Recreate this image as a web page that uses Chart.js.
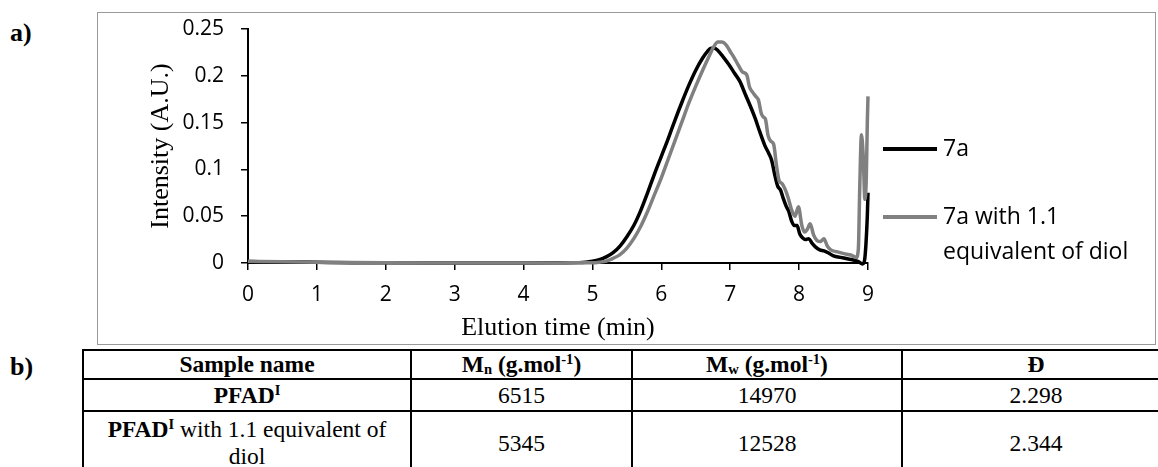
<!DOCTYPE html>
<html><head><meta charset="utf-8">
<script src="https://cdn.jsdelivr.net/npm/chart.js@4.4.1/dist/chart.umd.min.js"></script>
<style>
html,body{margin:0;padding:0;width:1158px;height:467px;overflow:hidden;background:#fff;}
.lab{position:absolute;font-family:"Liberation Serif","Times New Roman",serif;font-weight:bold;font-size:26px;line-height:30px;color:#000;}
#la{left:10px;top:18px;}
#lb{left:10px;top:352px;}
#box{position:absolute;left:97px;top:12px;width:1059px;height:333px;border:1px solid #999;box-sizing:border-box;}
#cw{position:absolute;left:0;top:0;width:1057px;height:331px;}
table{position:absolute;left:82px;top:349px;border-collapse:collapse;font-family:"Liberation Serif","Times New Roman",serif;font-size:23.5px;color:#000;table-layout:fixed;width:1087px;}
td{border:2px solid #000;text-align:center;vertical-align:middle;padding:0 12px;line-height:27px;}
sup,sub{font-size:0.62em;line-height:0;position:relative;vertical-align:baseline;}
sup{top:-0.55em;}
sub{top:0.15em;}
</style></head>
<body>
<div class="lab" id="la">a)</div>
<div id="box"><div id="cw"><canvas id="c"></canvas></div></div>
<div class="lab" id="lb">b)</div>
<table>
<colgroup><col style="width:328px"><col style="width:221px"><col style="width:270px"><col style="width:268px"></colgroup>
<tr style="height:28px"><td><b>Sample name</b></td><td><b>M<sub>n</sub> (g.mol<sup>-1</sup>)</b></td><td><b>M<sub>w</sub> (g.mol<sup>-1</sup>)</b></td><td><b>Đ</b></td></tr>
<tr style="height:32px"><td><b>PFAD<sup>I</sup></b></td><td>6515</td><td>14970</td><td>2.298</td></tr>
<tr style="height:64px"><td><b>PFAD<sup>I</sup></b> with 1.1 equivalent of diol</td><td>5345</td><td>12528</td><td>2.344</td></tr>
</table>
<script>
const xTicks = [0,1,2,3,4,5,6,7,8,9];
const yTicks = [0,0.05,0.1,0.15,0.2,0.25];
const yTickLabels = ['0','0.05','0.1','0.15','0.2','0.25'];
const seriesNames = ['7a','7a with 1.1 equivalent of diol'];
const legendLines = [['7a'],['7a with 1.1','equivalent of diol']];

const timeBlack = [0,0.5,1,1.5,2,3,4,4.5,4.8,4.9,5.0,5.1,5.2,5.3,5.4,5.5,5.6,5.7,5.8,5.9,6.0,6.1,6.2,6.3,6.4,6.5,6.6,6.67,6.72,6.77,6.82,6.9,6.98,7.06,7.14,7.22,7.29,7.36,7.43,7.5,7.56,7.6,7.65,7.69,7.73,7.77,7.81,7.85,7.89,7.93,7.97,8.01,8.05,8.09,8.14,8.19,8.24,8.3,8.36,8.42,8.5,8.6,8.7,8.8,8.86,8.92,8.95,8.97,8.99,9.0];
const intensityBlack = [0.0015,0.0012,0.0008,0.0004,0.0002,0.0001,0.0001,0.0002,0.0004,0.0008,0.0018,0.0035,0.0065,0.011,0.018,0.028,0.040,0.056,0.075,0.095,0.114,0.133,0.153,0.172,0.190,0.206,0.219,0.226,0.2295,0.2295,0.227,0.220,0.212,0.203,0.194,0.180,0.168,0.155,0.140,0.126,0.117,0.110,0.093,0.082,0.078,0.069,0.061,0.055,0.045,0.040,0.040,0.031,0.027,0.025,0.026,0.021,0.017,0.014,0.013,0.011,0.0075,0.006,0.0045,0.003,0.0015,-0.001,0.003,0.02,0.05,0.075];

const timeGray = [0,0.5,1,1.5,2,3,4,4.5,4.9,5.0,5.1,5.2,5.3,5.4,5.5,5.6,5.7,5.8,5.9,6.0,6.1,6.2,6.3,6.4,6.5,6.6,6.7,6.76,6.82,6.88,6.94,7.0,7.06,7.12,7.18,7.24,7.28,7.33,7.37,7.41,7.45,7.48,7.51,7.55,7.59,7.63,7.67,7.71,7.75,7.79,7.84,7.89,7.94,7.99,8.04,8.08,8.12,8.16,8.21,8.26,8.31,8.36,8.41,8.46,8.55,8.65,8.75,8.83,8.86,8.88,8.905,8.93,8.955,8.975,8.99,9.0];
const intensityGray = [0.0018,0.0014,0.0009,0.0005,0.0003,0.0001,0.0001,0.0001,0.0002,0.0002,0.0008,0.002,0.005,0.009,0.016,0.026,0.039,0.055,0.073,0.091,0.111,0.131,0.151,0.171,0.189,0.206,0.222,0.231,0.236,0.236,0.233,0.226,0.219,0.211,0.204,0.201,0.188,0.182,0.178,0.174,0.160,0.156,0.154,0.136,0.130,0.127,0.105,0.088,0.085,0.080,0.070,0.057,0.050,0.060,0.040,0.033,0.036,0.042,0.030,0.024,0.023,0.026,0.018,0.014,0.012,0.010,0.0085,0.006,0.015,0.080,0.137,0.115,0.068,0.090,0.150,0.178];

const legendPlugin = {
  id: 'sideLegend',
  afterDraw(chart) {
    const {ctx, chartArea} = chart;
    const x0 = chartArea.right + 15;
    const rows = [136, 204];
    ctx.save();
    chart.data.datasets.forEach((ds, i) => {
      const y = rows[i];
      ctx.strokeStyle = ds.borderColor;
      ctx.lineWidth = 4;
      ctx.beginPath(); ctx.moveTo(x0, y); ctx.lineTo(x0 + 54, y); ctx.stroke();
      ctx.fillStyle = '#000';
      ctx.font = "23px 'Open Sans', sans-serif";
      ctx.textBaseline = 'middle';
      ctx.textAlign = 'left';
      legendLines[i].forEach((t, j) => ctx.fillText(t, x0 + 60, y + j * 35));
    });
    ctx.restore();
  }
};

const gridOpts = {drawOnChartArea:false, drawTicks:true, tickLength:7, color:'#000', lineWidth:1.5};
new Chart(document.getElementById('c'), {
  type: 'line',
  data: {datasets: [
    {label: seriesNames[0], data: timeBlack.map((t,i)=>({x:t, y:intensityBlack[i]})), borderColor:'#000000', borderWidth:3.5, pointRadius:0, cubicInterpolationMode:'monotone', order:1, clip:false},
    {label: seriesNames[1], data: timeGray.map((t,i)=>({x:t, y:intensityGray[i]})), borderColor:'#808080', borderWidth:3.5, pointRadius:0, cubicInterpolationMode:'monotone', order:0, clip:false}
  ]},
  options: {
    responsive:true, maintainAspectRatio:false, animation:false,
    layout:{padding:{left:0, top:16, right:287, bottom:0}},
    plugins:{legend:{display:false}, tooltip:{enabled:false}},
    scales:{
      x:{type:'linear', min:0, max:9,
        afterBuildTicks: s => { s.ticks = xTicks.map(v => ({value:v})); },
        afterFit: s => { s.height = 81; s.paddingLeft = 0; s.paddingRight = 0; },
        grid: gridOpts,
        border:{display:true, color:'#000', width:2},
        ticks:{color:'#000', font:{family:"'Open Sans', sans-serif", size:21}, padding:12, maxRotation:0, autoSkip:false},
        title:{display:true, text:'Elution time (min)', color:'#000', font:{family:"'Liberation Serif', serif", size:26}, padding:{top:0, bottom:0}}
      },
      y:{type:'linear', min:0, max:0.25,
        afterBuildTicks: s => { s.ticks = yTicks.map(v => ({value:v})); },
        afterFit: s => { s.width = 150; s.paddingTop = 0; s.paddingBottom = 0; },
        grid: gridOpts,
        border:{display:true, color:'#000', width:2},
        ticks:{color:'#000', font:{family:"'Open Sans', sans-serif", size:21}, padding:17, callback:(v,i) => yTickLabels[i]},
        title:{display:true, text:'Intensity (A.U.)', color:'#000', font:{family:"'Liberation Serif', serif", size:26}, padding:{top:48, bottom:0}}
      }
    }
  },
  plugins:[legendPlugin]
});
</script>
</body></html>
